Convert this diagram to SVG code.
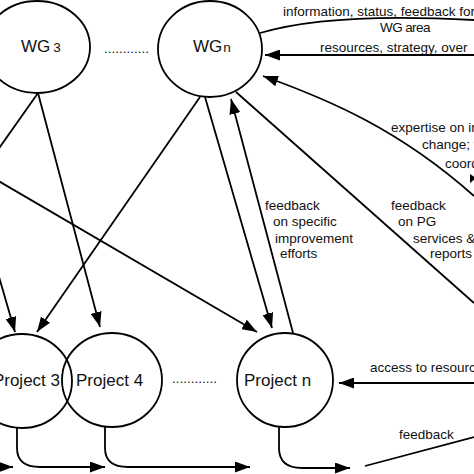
<svg xmlns="http://www.w3.org/2000/svg" width="474" height="474" viewBox="0 0 474 474">
<style>
.n{fill:none;stroke:#000;stroke-width:1.8}
.c{fill:none;stroke:#000;stroke-width:1.8}
.a{marker-end:url(#ah)}
text{font-family:"Liberation Sans",Arial,sans-serif;fill:#111}
.big{font-size:17px}
.lbl{font-size:13.5px}
</style>
<defs>
<marker id="ah" markerUnits="userSpaceOnUse" markerWidth="15" markerHeight="11" refX="15" refY="5.5" orient="auto">
<path d="M0,0 L15,5.5 L0,11 z" fill="#000"/>
</marker>
</defs>
<rect width="474" height="474" fill="#fff"/>
<g id="wg3">
<ellipse class="n" cx="37" cy="47" rx="53" ry="46"/>
<text class="big" x="21" y="52">WG<tspan font-size="13.5" dx="3">3</tspan></text>
</g>
<g id="dots-top"><text class="lbl" x="104" y="53">............</text></g>
<g id="wgn">
<ellipse class="n" cx="210" cy="49" rx="52" ry="48"/>
<text class="big" x="193" y="52">WG<tspan font-size="13.5" dx="1">n</tspan></text>
</g>
<g id="project3">
<ellipse class="n" cx="22" cy="381" rx="50" ry="47"/>
<text class="big" x="60" y="386" text-anchor="end">Project 3</text>
</g>
<g id="project4">
<ellipse class="n" cx="112" cy="380" rx="50" ry="47"/>
<text class="big" x="76" y="386">Project 4</text>
</g>
<g id="dots-bottom"><text class="lbl" x="172" y="383">............</text></g>
<g id="projectn">
<ellipse class="n" cx="285" cy="380" rx="48" ry="47"/>
<text class="big" x="244" y="386">Project n</text>
</g>
<g id="connectors">
<path class="c" d="M260,33 Q330,12 474,20"/>
<path class="c a" d="M474,55 L265,55"/>
<path class="c a" d="M474,196 C400,130 330,100 263,76"/>
<path class="c" d="M236,92 L474,303"/>
<path class="c a" d="M205,97 L272,328"/>
<path class="c a" d="M293,333 L231,99"/>
<path class="c a" d="M200,97 L37,332"/>
<path class="c a" d="M38,93 L100,327"/>
<path class="c" d="M38,93 L-10,161"/>
<path class="c a" d="M-10,176 L257,332"/>
<path class="c a" d="M-5,263 L15,332"/>
<path class="c a" d="M17,428 L17,448 Q17,467 40,467 L105,467"/>
<path class="c a" d="M105,427 L105,448 Q105,467 128,467 L250,467"/>
<path class="c a" d="M279,427 L279,448 Q279,468 302,468 L350,468"/>
<path class="c a" d="M-20,467 L13,467"/>
<path class="c" d="M365,466 L474,437"/>
<path class="c a" d="M474,383 L339,383"/>
<path d="M470,174 L476,178 L470,183 z" fill="#000"/>
</g>
<g id="labels">
<text class="lbl" x="283" y="16">information, status, feedback for</text>
<text class="lbl" x="380" y="32" letter-spacing="-0.6">WG area</text>
<text class="lbl" x="320" y="52">resources, strategy, over</text>
<text class="lbl" x="391" y="132">expertise on in</text>
<text class="lbl" x="422" y="149">change; t</text>
<text class="lbl" x="445" y="168">coord</text>
<text class="lbl" x="265" y="210">feedback</text>
<text class="lbl" x="273" y="226">on specific</text>
<text class="lbl" x="275" y="243">improvement</text>
<text class="lbl" x="280" y="258">efforts</text>
<text class="lbl" x="391" y="210">feedback</text>
<text class="lbl" x="398" y="226">on PG</text>
<text class="lbl" x="413" y="243">services &amp;</text>
<text class="lbl" x="430" y="258">reports</text>
<text class="lbl" x="370" y="372">access to resourc</text>
<text class="lbl" x="399" y="439">feedback</text>
</g>
</svg>
